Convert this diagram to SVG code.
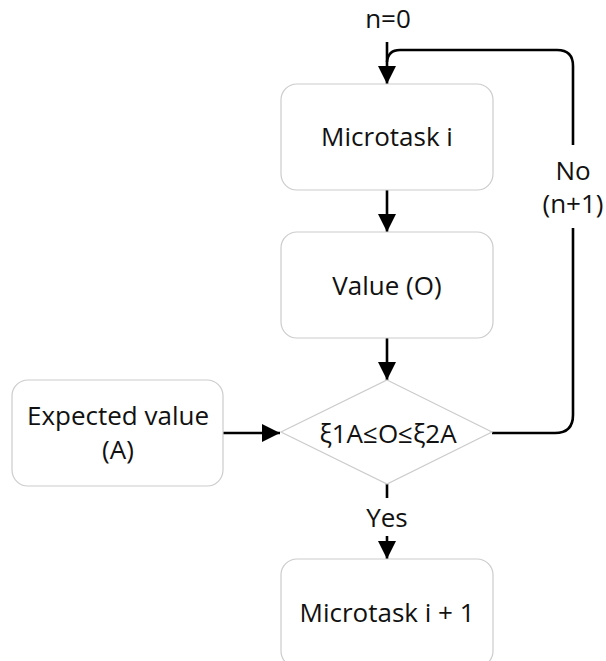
<svg xmlns="http://www.w3.org/2000/svg" width="606" height="661" viewBox="0 0 606 661">
  <style>
    .node { fill: #ffffff; stroke: #cccccc; stroke-width: 1.2; }
    .label { font-family: "Open Sans", "Noto Sans", sans-serif; font-size: 26px; fill: #111111; text-anchor: middle; }
    .edge { fill: none; stroke: #000000; stroke-width: 2.6; }
  </style>
  <defs>
    <marker id="arrow" viewBox="0 0 18 18" refX="18" refY="9" markerWidth="18" markerHeight="18" markerUnits="userSpaceOnUse" orient="auto">
      <path d="M0,0 L18,9 L0,18 Z" fill="#000000"/>
    </marker>
  </defs>
  <rect width="606" height="661" fill="#ffffff"/>

  <!-- flow connectors -->
  <g id="connectors">
    <line class="edge" x1="387" y1="42" x2="387" y2="84" marker-end="url(#arrow)"/>
    <line class="edge" x1="387" y1="190" x2="387" y2="232" marker-end="url(#arrow)"/>
    <line class="edge" x1="387" y1="338" x2="387" y2="380" marker-end="url(#arrow)"/>
    <line class="edge" x1="223" y1="433" x2="280" y2="433" marker-end="url(#arrow)"/>
    <!-- yes branch, broken around its label -->
    <line class="edge" x1="387" y1="484" x2="387" y2="498"/>
    <line class="edge" x1="387" y1="536" x2="387" y2="559" marker-end="url(#arrow)"/>
    <!-- no branch: loop back to the top -->
    <path class="edge" d="M492,433 H555 Q573,433 573,415 V228"/>
    <path class="edge" d="M573,145 V66 Q573,50 557,50 H400 Q388,50 387,62"/>
    <text class="label" x="573" y="180">No</text>
    <text class="label" x="573" y="213">(n+1)</text>
    <text class="label" x="387" y="527">Yes</text>
    <text class="label" x="388" y="28">n=0</text>
  </g>

  <g id="microtask-i">
    <rect class="node" x="281" y="84" width="212" height="106" rx="16" ry="16"/>
    <text class="label" x="387" y="146">Microtask i</text>
  </g>

  <g id="value-o">
    <rect class="node" x="281" y="232" width="212" height="106" rx="16" ry="16"/>
    <text class="label" x="387" y="295">Value (O)</text>
  </g>

  <g id="check">
    <polygon class="node" points="387,380 492,432 387,484 281,432"/>
    <text class="label" x="388" y="443">ξ1A≤O≤ξ2A</text>
  </g>

  <g id="expected-value">
    <rect class="node" x="12" y="380" width="211" height="106" rx="16" ry="16"/>
    <text class="label" x="118" y="425">Expected value</text>
    <text class="label" x="118" y="459">(A)</text>
  </g>

  <g id="microtask-next">
    <rect class="node" x="281" y="559" width="212" height="108" rx="16" ry="16"/>
    <text class="label" x="387" y="622">Microtask i + 1</text>
  </g>
</svg>
